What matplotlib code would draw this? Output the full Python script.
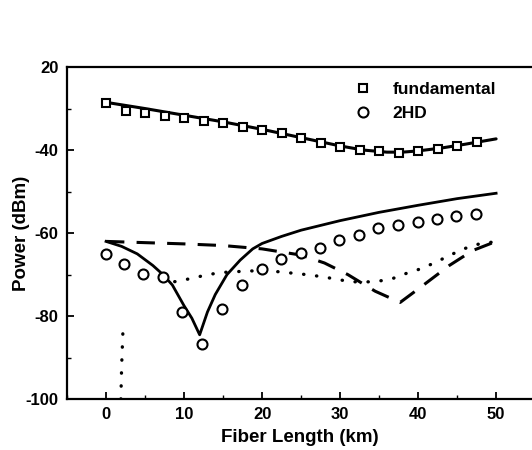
import numpy as np
import matplotlib
matplotlib.use("Agg")
import matplotlib.pyplot as plt
from matplotlib.ticker import MultipleLocator

plt.rcParams['font.family'] = ['Liberation Sans', 'DejaVu Sans']
plt.rcParams['font.weight'] = 'bold'

# fundamental measured (squares)
fund_x = [0, 2.5, 5, 7.5, 10, 12.5, 15, 17.5, 20, 22.5, 25, 27.5, 30, 32.5, 35, 37.5, 40, 42.5, 45, 47.5]
fund_y = [-28.7, -30.6, -31.1, -31.8, -32.3, -33.0, -33.5, -34.5, -35.2, -35.9, -37.1, -38.3, -39.3, -40.0, -40.2, -40.7, -40.2, -39.8, -39.0, -38.0]
# fundamental simulated (solid)
fund_line_x = [0, 5, 10, 15, 20, 25, 30, 33, 36, 38, 40, 43, 46, 50]
fund_line_y = [-28.5, -30.0, -31.6, -33.2, -35.0, -37.0, -39.0, -40.0, -40.5, -40.5, -40.2, -39.5, -38.6, -37.3]

# 2HD measured (circles)
hd_x = [0, 2.3, 4.8, 7.3, 9.8, 12.3, 14.8, 17.4, 20.0, 22.4, 25.0, 27.4, 29.9, 32.4, 34.9, 37.4, 40.0, 42.4, 44.9, 47.4]
hd_y = [-65.1, -67.5, -69.9, -70.5, -79.1, -86.6, -78.4, -72.4, -68.7, -66.3, -64.7, -63.5, -61.7, -60.5, -58.8, -58.1, -57.3, -56.6, -55.8, -55.3]
# 2HD simulated (solid)
hd_line_x = [0, 2, 4, 6, 7.3, 8.5, 10, 11, 12, 13, 14, 15.5, 17.2, 18.8, 20, 22.5, 25, 30, 35, 40, 45, 50]
hd_line_y = [-62.0, -63.2, -65.0, -67.8, -70.0, -72.5, -77.5, -80.5, -84.5, -79.0, -74.8, -70.0, -66.5, -63.8, -62.5, -60.8, -59.3, -57.0, -55.0, -53.3, -51.7, -50.4]
# dashed curve
dash_x = [0, 5, 10, 15, 20, 25, 28, 31, 34.5, 37.7, 40.7, 44, 47, 50]
dash_y = [-62.0, -62.3, -62.6, -63.0, -63.8, -65.3, -67.2, -70.0, -74.0, -76.7, -72.5, -67.8, -64.2, -62.0]
# dotted curve
dot_x = [1.9, 2.0, 2.2, np.nan, 8.8, 11, 12.8, 14.7, 18.5, 22.1, 25.7, 27.7, 29.5, 31.3, 33, 34.9, 36.8, 38.5, 40.5, 42.4, 44.1, 46, 48, 49.9]
dot_y = [-100, -92, -81.8, np.nan, -71.7, -70.9, -70.1, -69.5, -69.1, -69.3, -70.0, -70.5, -71.1, -71.7, -71.8, -71.6, -70.9, -69.7, -68.5, -66.9, -65.3, -63.7, -62.5, -62.1]

xticks = [0, 10, 20, 30, 40, 50]
yticks = [-100, -80, -60, -40, -20]
ytick_labels = ['-100', '-80', '-60', '-40', '20']

fig = plt.figure(figsize=(5.32, 4.5), dpi=100)
ax = fig.add_axes([0.126, 0.113, 0.874, 0.738])

ax.plot(fund_line_x, fund_line_y, color='black', lw=2.2, solid_capstyle='round')
ax.plot(hd_line_x, hd_line_y, color='black', lw=2.0)
ax.plot(dash_x, dash_y, color='black', lw=2.2, dashes=(6, 4))
ax.plot(dot_x, dot_y, color='black', lw=2.4, linestyle=(0, (0.1, 3.8)), dash_capstyle='round')

ax.plot(fund_x, fund_y, linestyle='none', marker='s', markersize=6.3, markerfacecolor='white',
        markeredgecolor='black', markeredgewidth=1.5, label='fundamental')
ax.plot(hd_x, hd_y, linestyle='none', marker='o', markersize=7.2, markerfacecolor='white',
        markeredgecolor='black', markeredgewidth=1.5, label='2HD')

ax.set_xlim(-5, 54.6)
ax.set_ylim(-100, -20)
ax.set_xticks(xticks)
ax.set_yticks(yticks)
ax.set_yticklabels(ytick_labels)
ax.xaxis.set_minor_locator(MultipleLocator(5))
ax.yaxis.set_minor_locator(MultipleLocator(10))
ax.tick_params(which='major', direction='in', length=5, width=1.3, labelsize=12, pad=6)
ax.tick_params(which='minor', direction='in', length=3, width=1.0)
for lbl in ax.get_xticklabels() + ax.get_yticklabels():
    lbl.set_fontweight('bold')

for s in ['left', 'bottom', 'top']:
    ax.spines[s].set_linewidth(1.6)
ax.spines['right'].set_visible(False)

ax.set_xlabel('Fiber Length (km)', fontsize=13.5, fontweight='bold', labelpad=5)
ax.set_ylabel('Power (dBm)', fontsize=13.5, fontweight='bold', labelpad=-3)

leg = ax.legend(loc='upper left', bbox_to_anchor=(0.603, 0.975), frameon=False,
                fontsize=12.5, handletextpad=1.2, labelspacing=0.5, handlelength=1.0,
                borderaxespad=0.0)
for t in leg.get_texts():
    t.set_fontweight('bold')

fig.savefig('out.png', dpi=100)
